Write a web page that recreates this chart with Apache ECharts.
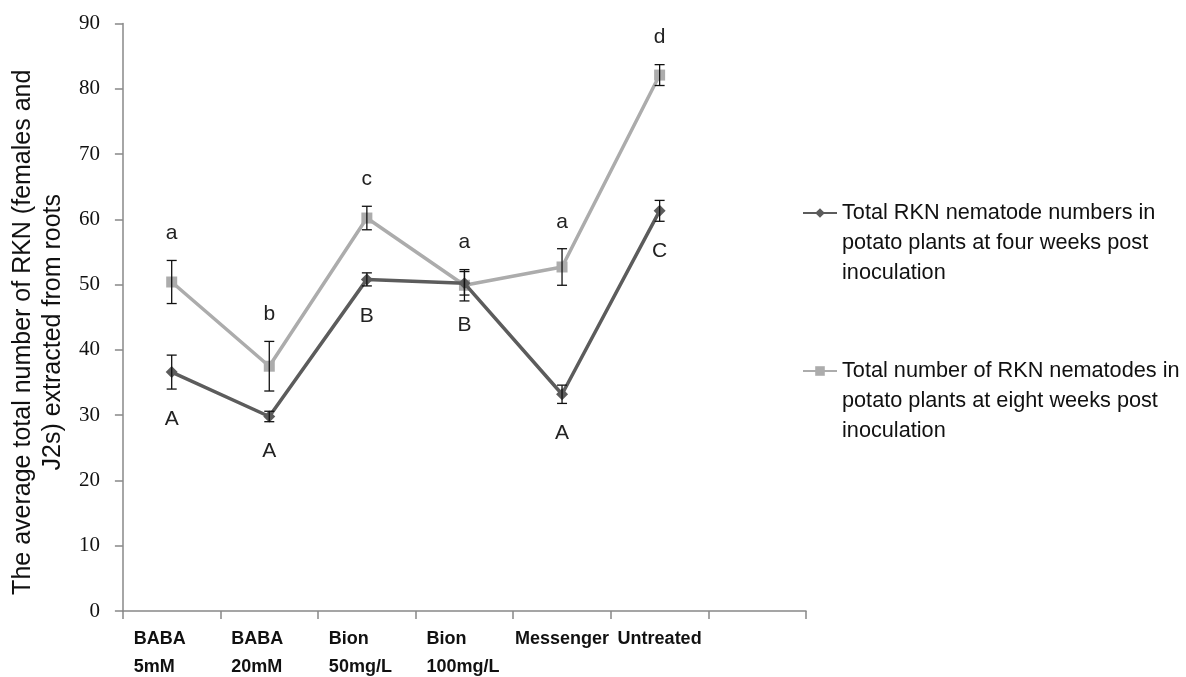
<!DOCTYPE html>
<html><head><meta charset="utf-8">
<script src="https://cdn.jsdelivr.net/npm/echarts@6/dist/echarts.min.js"></script>
<style>html,body{margin:0;padding:0;background:#fff}#c{width:1186px;height:677px}</style>
</head><body><div id="c"></div>
<script>
const categories = ['BABA\n5mM', 'BABA\n20mM', 'Bion\n50mg/L', 'Bion\n100mg/L', 'Messenger', 'Untreated', ''];
const fourWeeksName = 'Total RKN nematode numbers in\npotato plants at four weeks post\ninoculation';
const fourWeeks = [36.6, 29.8, 50.8, 50.2, 33.2, 61.3];
const fourWeeksErr = [2.6, 0.8, 1.0, 1.8, 1.4, 1.6];
const fourWeeksLetters = ['A', 'A', 'B', 'B', 'A', 'C'];
const eightWeeksName = 'Total number of RKN nematodes in\npotato plants at eight weeks post\ninoculation';
const eightWeeks = [50.4, 37.5, 60.2, 49.9, 52.7, 82.1];
const eightWeeksErr = [3.3, 3.8, 1.8, 2.4, 2.8, 1.6];
const eightWeeksLetters = ['a', 'b', 'c', 'a', 'a', 'd'];
const yAxisTitle = 'The average total number of RKN (females and\nJ2s) extracted from roots';

const DARK = '#5c5c5c', LIGHT = '#acacac';
const SANS = '"Liberation Sans", Arial, sans-serif';

function errSeries(vals, errs, letters, above) {
  return {
    type: 'custom',
    z: 5,
    silent: true,
    data: vals.map((v, i) => [i, v, errs[i]]),
    renderItem: function (params, api) {
      const i = api.value(0), v = api.value(1), e = api.value(2);
      const c = api.coord([i, v]);
      const t = api.coord([i, v + e]);
      const b = api.coord([i, v - e]);
      const cap = 5;
      const st = { stroke: '#111', lineWidth: 1.3 };
      return {
        type: 'group',
        children: [
          { type: 'line', shape: { x1: c[0], y1: t[1], x2: c[0], y2: b[1] }, style: st },
          { type: 'line', shape: { x1: c[0] - cap, y1: t[1], x2: c[0] + cap, y2: t[1] }, style: st },
          { type: 'line', shape: { x1: c[0] - cap, y1: b[1], x2: c[0] + cap, y2: b[1] }, style: st },
          { type: 'text', x: c[0], y: above ? t[1] - 27 : b[1] + 30,
            style: { text: letters[params.dataIndex], align: 'center', verticalAlign: 'middle',
                     font: '21px ' + SANS, fill: '#222' } }
        ]
      };
    }
  };
}

const chart = echarts.init(document.getElementById('c'), null, { renderer: 'canvas' });
chart.setOption({
  animation: false,
  backgroundColor: '#fff',
  grid: { left: 119, right: 380, top: 23.5, bottom: 66, containLabel: false },
  legend: {
    orient: 'vertical',
    left: 797,
    top: 133,
    itemWidth: 34,
    itemHeight: 12,
    itemGap: 8,
    data: [fourWeeksName, eightWeeksName],
    formatter: n => ' \n \n' + n,
    textStyle: { fontFamily: SANS, fontSize: 21.7, lineHeight: 30, color: '#111' }
  },
  xAxis: {
    type: 'category',
    data: categories,
    boundaryGap: true,
    axisLine: { lineStyle: { color: '#888', width: 1.5 } },
    axisTick: { show: true, length: 8, lineStyle: { color: '#888', width: 1.5 } },
    axisLabel: {
      interval: 0, margin: 14, color: '#111',
      formatter: v => v.indexOf('\n') >= 0 ? v.split('\n').map(s => '{b|' + s + '}').join('\n') : '{c|' + v + '}',
      rich: {
        b: { width: 76, align: 'left', fontWeight: 'bold', fontSize: 18, lineHeight: 28, fontFamily: SANS, color: '#111' },
        c: { fontWeight: 'bold', fontSize: 18, lineHeight: 28, fontFamily: SANS, color: '#111' }
      }
    }
  },
  yAxis: {
    type: 'value', min: 0, max: 90, interval: 10,
    name: yAxisTitle,
    nameLocation: 'middle', nameRotate: 90, nameGap: 51,
    nameTextStyle: { fontFamily: SANS, fontSize: 25, lineHeight: 30, color: '#111', padding: [0, 30, 0, 0] },
    axisLine: { show: true, lineStyle: { color: '#888', width: 1.5 } },
    axisTick: { show: true, length: 8, lineStyle: { color: '#888', width: 1.5 } },
    splitLine: { show: false },
    axisLabel: { margin: 23, fontFamily: '"Liberation Serif", serif', fontSize: 21, color: '#111' }
  },
  series: [
    { name: eightWeeksName, type: 'line', data: eightWeeks, symbol: 'rect', symbolSize: 11,
      itemStyle: { color: LIGHT }, lineStyle: { color: LIGHT, width: 3.5 }, z: 2 },
    { name: fourWeeksName, type: 'line', data: fourWeeks, symbol: 'diamond', symbolSize: 12,
      itemStyle: { color: DARK }, lineStyle: { color: DARK, width: 3.5 }, z: 3 },
    errSeries(eightWeeks, eightWeeksErr, eightWeeksLetters, true),
    errSeries(fourWeeks, fourWeeksErr, fourWeeksLetters, false)
  ]
});
</script></body></html>
